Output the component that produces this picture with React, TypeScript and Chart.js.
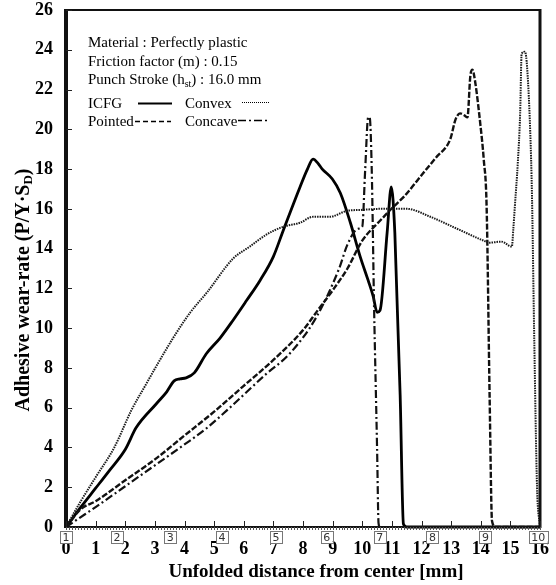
import React, { useEffect, useRef } from 'react';
import { Chart, registerables } from 'chart.js';
Chart.register(...registerables);

// ---- data ----
const icfgX = [0, 0.5, 1.0, 1.47, 2.0, 2.37, 3.05, 3.4, 3.65, 3.85, 4.05, 4.33, 4.73, 5.2, 5.64, 6.1, 6.55, 7.0, 7.33, 7.9, 8.15, 8.34, 8.5, 8.65, 8.99, 9.26, 9.6, 9.93, 10.2, 10.37, 10.5, 10.6, 10.84, 10.98, 11.1, 11.28, 11.39, 11.5, 16];
const icfgY = [0, 1.0, 1.95, 2.85, 3.9, 5.0, 6.2, 6.8, 7.35, 7.45, 7.5, 7.75, 8.7, 9.5, 10.4, 11.4, 12.4, 13.6, 14.9, 17.1, 18.0, 18.5, 18.3, 18.0, 17.5, 16.8, 15.3, 13.6, 12.4, 11.6, 10.8, 10.9, 14.8, 17.1, 14.8, 6.6, 0.15, 0, 0];

const convexX = [0, 0.5, 1.0, 1.63, 2.2, 2.71, 3.15, 3.72, 4.2, 4.76, 5.64, 6.2, 6.76, 7.33, 7.9, 8.34, 8.9, 9.49, 10.0, 10.6, 11.5, 12.3, 13.2, 14.1, 14.3, 14.7, 15.05, 15.1, 15.15, 15.25, 15.33, 15.38, 15.48, 15.55, 15.67, 15.73, 15.8, 15.9, 16];
const convexY = [0, 1.3, 2.5, 4.0, 5.85, 7.2, 8.35, 9.75, 10.8, 11.8, 13.5, 14.1, 14.7, 15.1, 15.3, 15.6, 15.6, 15.9, 15.95, 16.0, 16.0, 15.6, 15.0, 14.4, 14.3, 14.35, 14.1, 15.0, 16.1, 18.3, 20.8, 23.8, 23.9, 23.4, 19.9, 16.6, 10.0, 2.0, 0];

const pointedX = [0, 0.5, 1.0, 2.0, 3.0, 4.0, 5.0, 6.0, 7.0, 8.0, 8.5, 9.0, 9.5, 10.0, 10.6, 11.05, 11.4, 12.06, 12.5, 12.97, 13.15, 13.3, 13.45, 13.55, 13.65, 13.72, 13.8, 13.99, 14.1, 14.2, 14.3, 14.38, 14.5, 16];
const pointedY = [0, 0.9, 1.3, 2.35, 3.4, 4.6, 5.8, 7.1, 8.4, 9.9, 10.9, 11.9, 13.0, 14.4, 15.4, 16.1, 16.6, 17.8, 18.6, 19.5, 20.5, 20.8, 20.7, 20.6, 22.7, 23.0, 22.5, 20.2, 18.5, 16.0, 6.5, 0.3, 0, 0];

const concaveX = [0, 0.7, 1.0, 2.0, 3.0, 4.0, 4.73, 5.42, 6.76, 7.54, 8.45, 9.22, 9.5, 9.86, 10.0, 10.1, 10.2, 10.25, 10.32, 10.4, 10.5, 10.55, 10.6, 16];
const concaveY = [0, 0.7, 1.0, 2.05, 3.1, 4.15, 4.95, 5.85, 7.7, 8.7, 10.55, 13.0, 14.2, 15.0, 15.1, 18.0, 20.6, 20.6, 18.0, 11.0, 4.0, 0.2, 0, 0];

const xMin = 0;
const xMax = 16;
const yMin = 0;
const yMax = 26;
const yStep = 2;
const xStep = 1;

const boxLabels = ['1', '2', '3', '4', '5', '6', '7', '8', '9', '10'];
const boxPositions = [0, 1.72, 3.52, 5.27, 7.09, 8.8, 10.59, 12.37, 14.16, 15.94];

const infoLines = ['Material : Perfectly plastic', 'Friction factor (m) : 0.15'];
const strokeText = ['Punch Stroke (h', 'st', ') : 16.0 mm'];
const legendNames = ['ICFG', 'Convex', 'Pointed', 'Concave'];
const xTitle = 'Unfolded distance from center [mm]';
const yTitleParts = ['Adhesive wear-rate (P/Y\u00B7S', 'D', ')'];

const SERIF = '"Liberation Serif", "Times New Roman", serif';

function pts(xs: number[], ys: number[]) {
  return xs.map((x, i) => ({ x, y: ys[i] }));
}

const decor = {
  id: 'decor',
  afterDraw(chart: any) {
    const ctx = chart.ctx as CanvasRenderingContext2D;
    const { left, right, top, bottom } = chart.chartArea;
    const xs = chart.scales.x;
    const ys = chart.scales.y;
    ctx.save();
    // borders
    ctx.fillStyle = '#111';
    ctx.fillRect(left - 2, top - 1, 4, bottom - top + 2);
    ctx.fillRect(right - 1.5, top - 1, 3, bottom - top + 2);
    ctx.fillRect(left, top - 1, right - left, 2);
    ctx.fillRect(left, bottom - 1, right - left, 2);
    // y ticks (inward)
    ctx.strokeStyle = '#222';
    ctx.lineWidth = 1;
    for (let v = yMin; v <= yMax; v += yStep) {
      const py = Math.round(ys.getPixelForValue(v)) + 0.5;
      ctx.beginPath();
      ctx.moveTo(left, py);
      ctx.lineTo(left + 6, py);
      ctx.stroke();
    }
    // x ticks (inward) and minor hashes
    for (let v = xMin; v <= xMax; v += xStep) {
      const px = Math.round(xs.getPixelForValue(v)) + 0.5;
      ctx.beginPath();
      ctx.moveTo(px, bottom);
      ctx.lineTo(px, bottom - 6);
      ctx.stroke();
    }
    ctx.strokeStyle = '#555';
    for (let i = 0; i <= 160; i++) {
      const px = Math.round(xs.getPixelForValue(i / 10)) + 0.5;
      ctx.beginPath();
      ctx.moveTo(px, bottom);
      ctx.lineTo(px, bottom + 3);
      ctx.stroke();
    }
    // boxed node labels
    ctx.font = '11px "DejaVu Sans", sans-serif';
    ctx.textAlign = 'center';
    ctx.textBaseline = 'middle';
    boxLabels.forEach((lab, i) => {
      const px = xs.getPixelForValue(boxPositions[i]);
      const w = ctx.measureText(lab).width + 5;
      ctx.fillStyle = '#fff';
      ctx.fillRect(px - w / 2, 531, w, 12);
      ctx.strokeStyle = '#777';
      ctx.strokeRect(Math.round(px - w / 2) + 0.5, 531.5, Math.round(w), 12);
      ctx.fillStyle = '#333';
      ctx.fillText(lab, px, 538);
    });
    // annotation text
    ctx.fillStyle = '#000';
    ctx.textAlign = 'left';
    ctx.textBaseline = 'alphabetic';
    ctx.font = `15px ${SERIF}`;
    ctx.fillText(infoLines[0], 88, 47);
    ctx.fillText(infoLines[1], 88, 66);
    let x = 88;
    ctx.fillText(strokeText[0], x, 84);
    x += ctx.measureText(strokeText[0]).width;
    ctx.font = `10px ${SERIF}`;
    ctx.fillText(strokeText[1], x, 87);
    x += ctx.measureText(strokeText[1]).width;
    ctx.font = `15px ${SERIF}`;
    ctx.fillText(strokeText[2], x, 84);
    // legend
    ctx.fillText(legendNames[0], 88, 108);
    ctx.fillText(legendNames[1], 185, 108);
    ctx.fillText(legendNames[2], 88, 126);
    ctx.fillText(legendNames[3], 185, 126);
    ctx.strokeStyle = '#000';
    const seg = (x1: number, x2: number, y: number, dash: number[], w: number) => {
      ctx.setLineDash(dash);
      ctx.lineWidth = w;
      ctx.beginPath();
      ctx.moveTo(x1, y);
      ctx.lineTo(x2, y);
      ctx.stroke();
    };
    seg(138, 172, 103.5, [], 1.8);
    seg(242, 270, 102.5, [1, 1], 1);
    seg(135, 171, 121.5, [5, 3], 1.5);
    seg(238, 270, 120.5, [8, 3, 2, 3], 1.5);
    ctx.setLineDash([]);
    // x title
    ctx.font = `bold 19px ${SERIF}`;
    ctx.textAlign = 'center';
    ctx.textBaseline = 'middle';
    ctx.fillText(xTitle, 316, 572);
    // y title with subscript
    ctx.translate(24, 290);
    ctx.rotate(-Math.PI / 2);
    ctx.textAlign = 'left';
    ctx.textBaseline = 'middle';
    const bigF = `bold 20px ${SERIF}`;
    const smallF = `bold 13px ${SERIF}`;
    ctx.font = bigF;
    const w0 = ctx.measureText(yTitleParts[0]).width;
    const w2 = ctx.measureText(yTitleParts[2]).width;
    ctx.font = smallF;
    const w1 = ctx.measureText(yTitleParts[1]).width;
    let sx = -(w0 + w1 + w2) / 2;
    ctx.font = bigF;
    ctx.fillText(yTitleParts[0], sx, 0);
    sx += w0;
    ctx.font = smallF;
    ctx.fillText(yTitleParts[1], sx, 5);
    sx += w1;
    ctx.font = bigF;
    ctx.fillText(yTitleParts[2], sx, 0);
    ctx.restore();
  },
};

export default function App() {
  const ref = useRef<HTMLCanvasElement | null>(null);
  useEffect(() => {
    if (!ref.current) return;
    const common = { pointRadius: 0, fill: false, cubicInterpolationMode: 'monotone' as const, clip: 5 };
    const chart = new Chart(ref.current, {
      type: 'line',
      data: {
        datasets: [
          { label: 'Convex', data: pts(convexX, convexY), borderColor: '#1a1a1a', borderWidth: 2, borderDash: [1.5, 1], ...common },
          { label: 'Concave', data: pts(concaveX, concaveY), borderColor: '#111', borderWidth: 2.2, borderDash: [8, 3, 2, 3], ...common },
          { label: 'Pointed', data: pts(pointedX, pointedY), borderColor: '#111', borderWidth: 2.4, borderDash: [6, 2], ...common },
          { label: 'ICFG', data: pts(icfgX, icfgY), borderColor: '#000', borderWidth: 2.8, ...common },
        ],
      },
      options: {
        responsive: false,
        animation: false,
        layout: { padding: { top: 10, right: 16, left: 0, bottom: 0 } },
        plugins: { legend: { display: false }, tooltip: { enabled: false } },
        scales: {
          x: {
            type: 'linear',
            min: xMin,
            max: xMax,
            grid: { display: false, drawTicks: false },
            border: { display: false },
            ticks: {
              stepSize: xStep,
              autoSkip: false,
              maxRotation: 0,
              padding: 12,
              color: '#000',
              font: { family: SERIF, size: 18, weight: 'bold' },
            },
            afterFit: (s: any) => { s.height = 58; s.paddingLeft = 0; s.paddingRight = 0; },
          },
          y: {
            type: 'linear',
            min: yMin,
            max: yMax,
            grid: { display: false, drawTicks: false },
            border: { display: false },
            ticks: {
              stepSize: yStep,
              autoSkip: false,
              padding: 13,
              color: '#000',
              font: { family: SERIF, size: 18, weight: 'bold' },
            },
            afterFit: (s: any) => { s.width = 66; s.paddingTop = 0; s.paddingBottom = 0; },
          },
        },
      },
      plugins: [decor],
    });
    return () => chart.destroy();
  }, []);
  return (
    <div style={{ position: 'absolute', left: 0, top: 0, width: 556, height: 585, background: '#fff' }}>
      <canvas ref={ref} width={556} height={585} style={{ display: 'block' }} />
    </div>
  );
}
